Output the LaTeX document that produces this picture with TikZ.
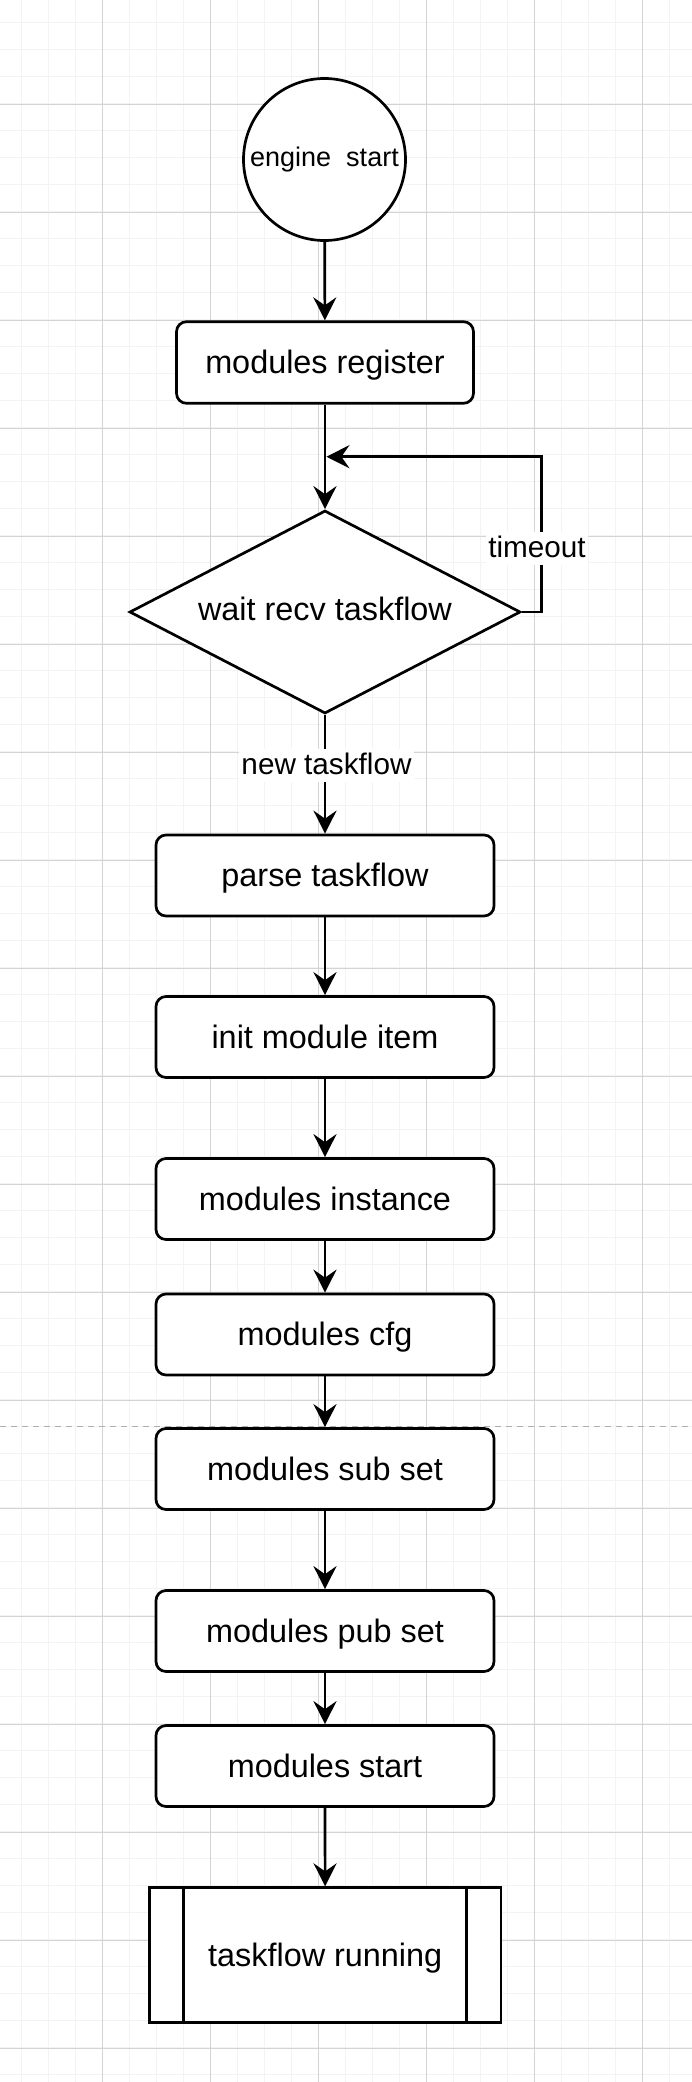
\documentclass[tikz,border=0pt]{standalone}
\usepackage{fontspec}
\setmainfont{Liberation Sans}
\usetikzlibrary{arrows.meta,shapes.geometric}
\definecolor{gridminor}{RGB}{243,243,243}
\definecolor{gridmajor}{RGB}{212,212,212}
\definecolor{pagebreak}{RGB}{175,175,175}
\tikzset{
  box/.style={draw, fill=white, line width=2.7pt, rounded corners=10pt,
    minimum width=338pt, minimum height=81pt, inner sep=0pt,
    text height=22pt, text depth=0pt,
    font=\fontsize{32.4}{38}\selectfont},
  arr/.style={line width=2.7pt, -{Stealth[length=23pt,width=23pt,inset=8pt]}},
  lbl/.style={fill=white, inner xsep=2pt, inner ysep=7.5pt, text height=18pt, text depth=0pt,
    font=\fontsize{29.7}{34}\selectfont},
  minorline/.style={draw=gridminor, line width=1pt},
  majorline/.style={draw=gridmajor, line width=1pt},
}
\begin{document}
\begin{tikzpicture}[x=1pt,y=-1pt]
\useasboundingbox (0,0) rectangle (692,2082);
\fill[white] (0,0) rectangle (692,2082);
% grid
\foreach \i in {0,...,26} { \draw[minorline] ({-5.3+27*\i},0) -- ({-5.3+27*\i},2082); }
\foreach \i in {1,...,77} { \draw[minorline] (0,{-4.7+27*\i}) -- (692,{-4.7+27*\i}); }
\foreach \i in {1,...,6} { \draw[majorline] ({-5.3+108*\i},0) -- ({-5.3+108*\i},2082); }
\foreach \i in {0,...,18} { \draw[majorline] (0,{104.3+108*\i}) -- (692,{104.3+108*\i}); }
% page break
\draw[draw=pagebreak, line width=1.3pt, dash pattern=on 6pt off 5pt] (0,1426.7) -- (692,1426.7);

% nodes
\node[draw, circle, fill=white, line width=2.7pt, minimum size=162pt, inner sep=0pt,
  text height=14.6pt, text depth=0pt,
  font=\fontsize{27}{32}\selectfont] (start) at (324.5,159.5) {engine~~start};
\node[box, minimum width=297pt, minimum height=81.6pt] (reg) at (325,362.5) {modules register};
\node[draw, diamond, fill=white, line width=2.7pt, aspect=1.93, minimum width=391pt,
  minimum height=203pt, inner sep=0pt, text height=16.2pt, text depth=0pt,
  font=\fontsize{32.4}{38}\selectfont]
  (wait) at (325,612) {wait recv taskflow};
\node[box] (parse) at (325,875.5) {parse taskflow};
\node[box] (init) at (325,1037) {init module item};
\node[box] (inst) at (325,1199) {modules instance};
\node[box] (cfg) at (325,1334.5) {modules cfg};
\node[box] (sub) at (325,1469) {modules sub set};
\node[box] (pub) at (325,1631) {modules pub set};
\node[box] (mstart) at (325,1766) {modules start};
\node[draw, fill=white, line width=2.7pt, minimum width=351.7pt, minimum height=135pt,
  inner sep=0pt, text height=23pt, text depth=0pt,
  font=\fontsize{32.4}{38}\selectfont] (run) at (325.2,1955.2) {taskflow running};
\draw[line width=2.7pt] ([xshift=35.7pt]run.north west) -- ([xshift=35.7pt]run.south west);
\draw[line width=2.7pt] ([xshift=-35.7pt]run.north east) -- ([xshift=-35.7pt]run.south east);

% connectors
\coordinate (loopcorner) at (541.7,456.7);
\coordinate (loopin) at (326.4,456.7);
\draw[arr] (start) -- (reg);
\draw[arr] (reg) -- (wait.north);
\draw[arr] (wait.east) -| (loopcorner) -- (loopin);
\node[lbl] (timeout) at (537,548.5) {timeout};
\draw[arr] (wait.south) -- (parse);
\node[lbl] (newtf) at (326.5,765) {new taskflow};
\draw[arr] (parse) -- (init);
\draw[arr] (init) -- (inst);
\draw[arr] (inst) -- (cfg);
\draw[arr] (cfg) -- (sub);
\draw[arr] (sub) -- (pub);
\draw[arr] (pub) -- (mstart);
\draw[arr] (mstart) -- (run);
\end{tikzpicture}
\end{document}
